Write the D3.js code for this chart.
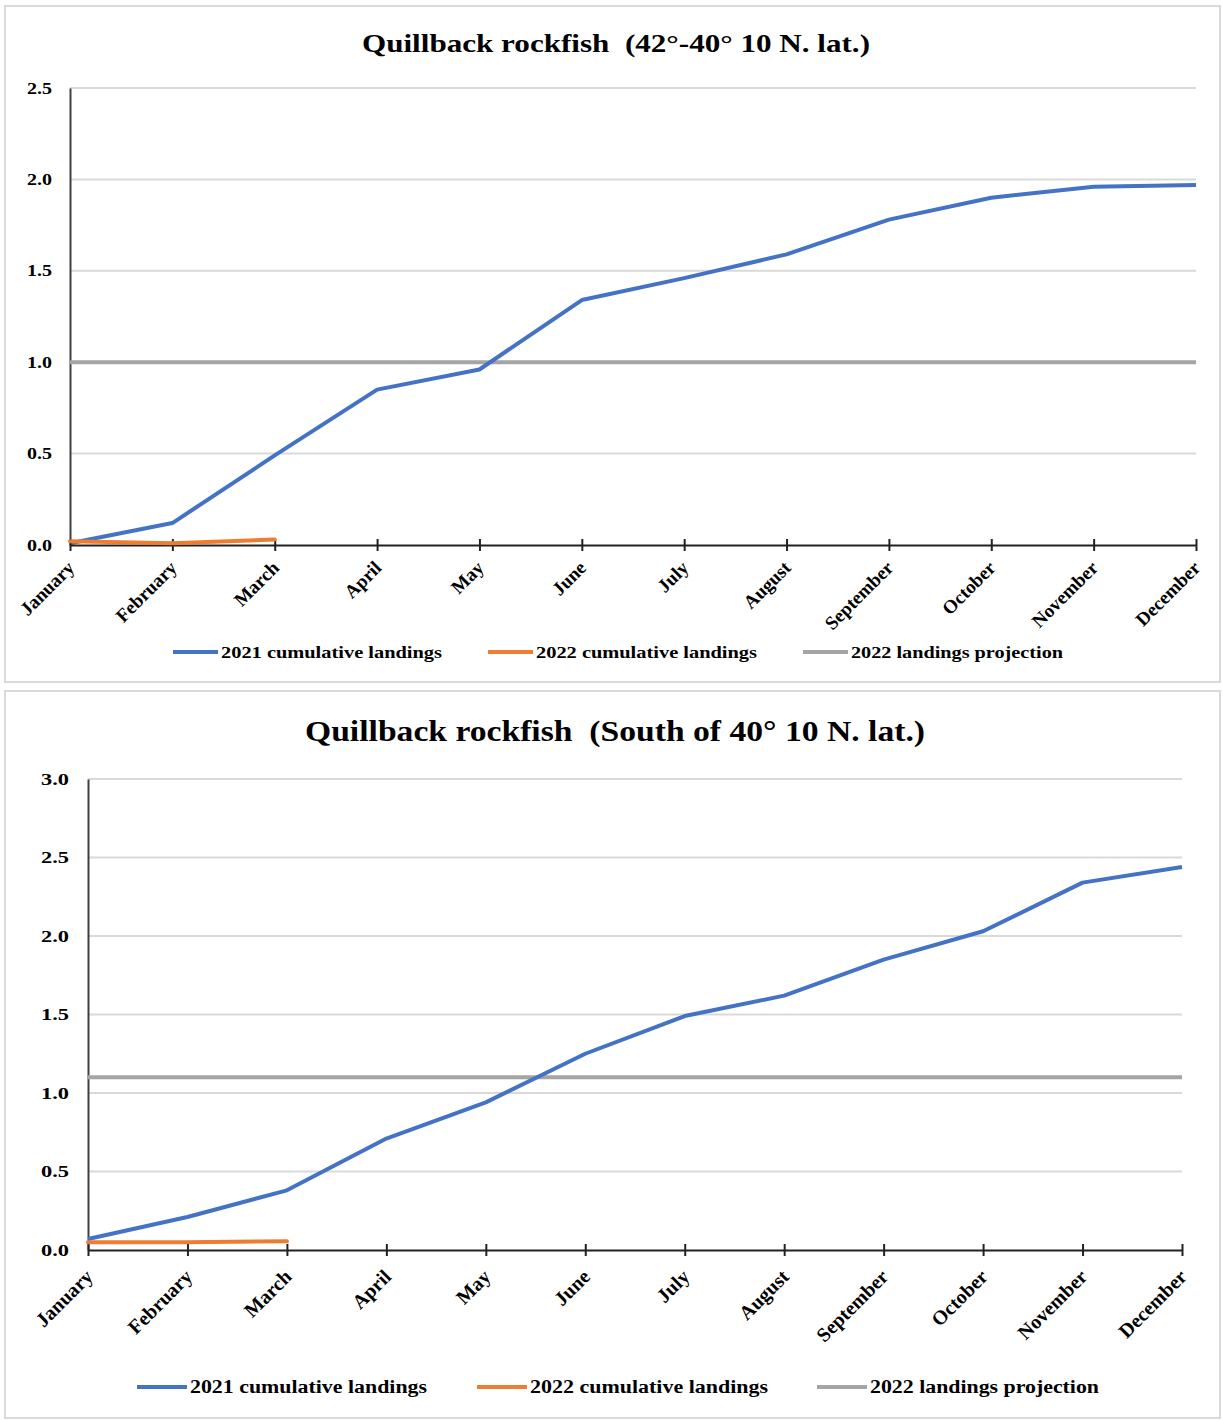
<!DOCTYPE html>
<html>
<head>
<meta charset="utf-8">
<script src="https://cdn.jsdelivr.net/npm/d3@7"></script>
<style>
  html, body { margin: 0; padding: 0; background: #fff; }
  svg { display: block; }
  text { font-family: "Liberation Serif", "Times New Roman", serif; font-weight: bold; fill: #000; white-space: pre; }
</style>
</head>
<body>
<svg id="chart" width="1223" height="1421"></svg>
<script>
// ---------- data ----------
const months = ["January","February","March","April","May","June","July","August","September","October","November","December"];
const seriesNames = ["2021 cumulative landings","2022 cumulative landings","2022 landings projection"];
const seriesColors = ["#4472C4","#ED7D31","#A5A5A5"];

const titleNorth = "Quillback rockfish  (42°-40° 10 N. lat.)";
const north2021 = [0.01,0.12,0.49,0.85,0.96,1.34,1.46,1.59,1.78,1.90,1.96,1.97];
const north2022 = [0.02,0.01,0.03];
const northProjection = 1.0;
const northTicks = [0.0,0.5,1.0,1.5,2.0,2.5];

const titleSouth = "Quillback rockfish  (South of 40° 10 N. lat.)";
const south2021 = [0.07,0.21,0.38,0.71,0.94,1.25,1.49,1.62,1.85,2.03,2.34,2.44];
const south2022 = [0.05,0.05,0.055];
const southProjection = 1.1;
const southTicks = [0.0,0.5,1.0,1.5,2.0,2.5,3.0];

// ---------- drawing ----------
const svg = d3.select("#chart");

function drawPanel(cfg) {
  const g = svg.append("g");
  g.append("rect")
    .attr("x", cfg.box[0]).attr("y", cfg.box[1])
    .attr("width", cfg.box[2]).attr("height", cfg.box[3])
    .attr("fill", "#fff").attr("stroke", "#d9d9d9").attr("stroke-width", 2);

  g.append("text")
    .attr("x", cfg.titleX).attr("y", cfg.titleY)
    .attr("font-size", cfg.titleSize)
    .attr("textLength", cfg.titleLen).attr("lengthAdjust", "spacingAndGlyphs")
    .text(cfg.title);

  const x = d3.scalePoint().domain(months).range([cfg.left, cfg.right]);
  const y = d3.scaleLinear().domain([0, d3.max(cfg.ticks)]).range([cfg.bottom, cfg.top]);

  g.append("g").selectAll("line").data(cfg.ticks.filter(d => d > 0)).join("line")
    .attr("x1", cfg.left).attr("x2", cfg.right)
    .attr("y1", d => y(d)).attr("y2", d => y(d))
    .attr("stroke", "#d9d9d9").attr("stroke-width", 2);

  const ya = g.append("g").attr("transform", `translate(${cfg.left},0)`)
    .call(d3.axisLeft(y).tickValues(cfg.ticks).tickFormat(d3.format(".1f")).tickSize(0).tickPadding(cfg.yPad));
  ya.select(".domain").attr("stroke", "#404040").attr("stroke-width", 2);
  ya.selectAll("text").attr("font-size", cfg.tickSize)
    .style("font-family", '"Liberation Serif", serif').style("font-weight", "bold")
    .attr("fill", "#000")
    .attr("textLength", cfg.yLabelLen).attr("lengthAdjust", "spacingAndGlyphs");

  const line = d3.line().x((d, i) => x(months[i])).y(d => y(d));
  const proj = months.map(() => cfg.projection);
  g.append("path").datum(proj).attr("d", line)
    .attr("fill", "none").attr("stroke", seriesColors[2]).attr("stroke-width", 4);
  g.append("path").datum(cfg.s2021).attr("d", line)
    .attr("fill", "none").attr("stroke", seriesColors[0]).attr("stroke-width", 4).attr("stroke-linejoin", "round");

  const xa = g.append("g").attr("transform", `translate(0,${cfg.bottom})`)
    .call(d3.axisBottom(x).tickSize(6).tickSizeOuter(0));
  xa.select(".domain").attr("stroke", "#222").attr("stroke-width", 2);
  xa.selectAll(".tick line").attr("y1", -6).attr("y2", 6).attr("stroke", "#222").attr("stroke-width", 2);
  xa.selectAll(".tick text")
    .attr("font-size", cfg.monthSize)
    .style("font-family", '"Liberation Serif", serif').style("font-weight", "bold")
    .attr("fill", "#000")
    .attr("text-anchor", "end")
    .attr("dy", null).attr("y", null)
    .attr("transform", `translate(${cfg.mdx},${cfg.mdy}) rotate(-45)`);

  g.append("path").datum(cfg.s2022).attr("d", line)
    .attr("fill", "none").attr("stroke", seriesColors[1]).attr("stroke-width", 4).attr("stroke-linecap", "round");

  const lg = g.append("g");
  seriesNames.forEach((name, i) => {
    const lx = cfg.legendX[i];
    lg.append("line").attr("x1", lx).attr("x2", lx + cfg.legendLine)
      .attr("y1", cfg.legendY).attr("y2", cfg.legendY)
      .attr("stroke", seriesColors[i]).attr("stroke-width", 4);
    lg.append("text").attr("x", lx + cfg.legendLine + 3).attr("y", cfg.legendY + 6)
      .attr("font-size", cfg.legendSize)
      .attr("textLength", cfg.legendLen[i]).attr("lengthAdjust", "spacingAndGlyphs")
      .text(name);
  });
}

drawPanel({
  box: [5, 6, 1215, 676],
  title: titleNorth, titleX: 362, titleY: 52, titleSize: 26, titleLen: 508,
  left: 70, right: 1196, top: 88, bottom: 545,
  ticks: northTicks, s2021: north2021, s2022: north2022, projection: northProjection,
  tickSize: 16, yPad: 18, yLabelLen: 25, monthSize: 19, mdx: 5, mdy: 24,
  legendX: [173, 488, 803], legendLine: 45, legendY: 652, legendSize: 17, legendLen: [221, 221, 212]
});

drawPanel({
  box: [5, 691, 1215, 727],
  title: titleSouth, titleX: 305, titleY: 741, titleSize: 29, titleLen: 620,
  left: 88, right: 1182, top: 779, bottom: 1250,
  ticks: southTicks, s2021: south2021, s2022: south2022, projection: southProjection,
  tickSize: 17, yPad: 19, yLabelLen: 28, monthSize: 20, mdx: 5.5, mdy: 28,
  legendX: [137, 477, 817], legendLine: 50, legendY: 1387, legendSize: 18, legendLen: [237, 238, 229]
});
</script>
</body>
</html>
